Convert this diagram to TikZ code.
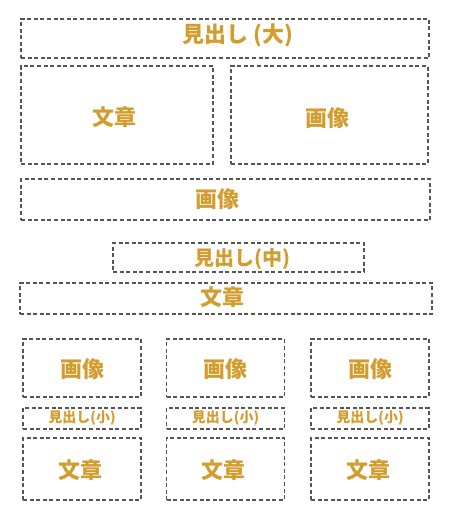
\documentclass[tikz,border=0pt]{standalone}
\usepackage{fontspec}
\setmainfont{Noto Sans CJK JP}
\usetikzlibrary{positioning}
\definecolor{gold}{HTML}{D29D2E}
\definecolor{frame}{HTML}{555555}

\begin{document}
\begin{tikzpicture}[x=1pt,y=-1pt,
    area/.style={draw=frame,line width=1.1pt,dash pattern=on 4pt off 2.6pt,inner sep=0pt},
    big/.style={text=gold,inner sep=0pt,font=\bfseries\fontsize{22}{22}\selectfont},
    mid/.style={big,font=\bfseries\fontsize{20}{20}\selectfont},
    small/.style={big,font=\bfseries\fontsize{14}{14}\selectfont}]
    \useasboundingbox (0,0) rectangle (449,520);
    % upper part
    \node (H1) [area,minimum width=408,minimum height=39,
        label={[big,xshift=12.5,yshift=3.5]center:見出し (大)}] at (225,38.5) {};
    \node (T1) [area,minimum width=192,minimum height=98,
        label={[big,xshift=-2.5,yshift=-2.5]center:文章}] at (117,115) {};
    \node (I1) [area,minimum width=197,minimum height=98,
        label={[big,xshift=-2.5,yshift=-3.5]center:画像}] at (329.5,115) {};
    \node (I2) [area,minimum width=409,minimum height=41,
        label={[big,xshift=-8]center:画像}] at (225.5,199.5) {};
    % middle part
    \node (H2) [area,minimum width=251,minimum height=29,
        label={[mid,xshift=4,yshift=-1]center:見出し(中)}] at (238.5,257.5) {};
    \node (T2) [area,minimum width=412,minimum height=31,
        label={[big,xshift=-3.5,yshift=1]center:文章}] at (226,298.5) {};
    % three columns
    \foreach \i/\x in {1/82,2/225.5,3/370} {
        \node (CI\i) [area,minimum width=118,minimum height=58,
            label={[big,yshift=-1]center:画像}] at (\x,368) {};
        \node (CH\i) [area,minimum width=118,minimum height=21,
            label={[small]center:見出し(小)}] at (\x,418.5) {};
        \node (CT\i) [area,minimum width=118,minimum height=62,
            label={[big,xshift=-2,yshift=-1]center:文章}] at (\x,469) {};
    }
\end{tikzpicture}
\end{document}
